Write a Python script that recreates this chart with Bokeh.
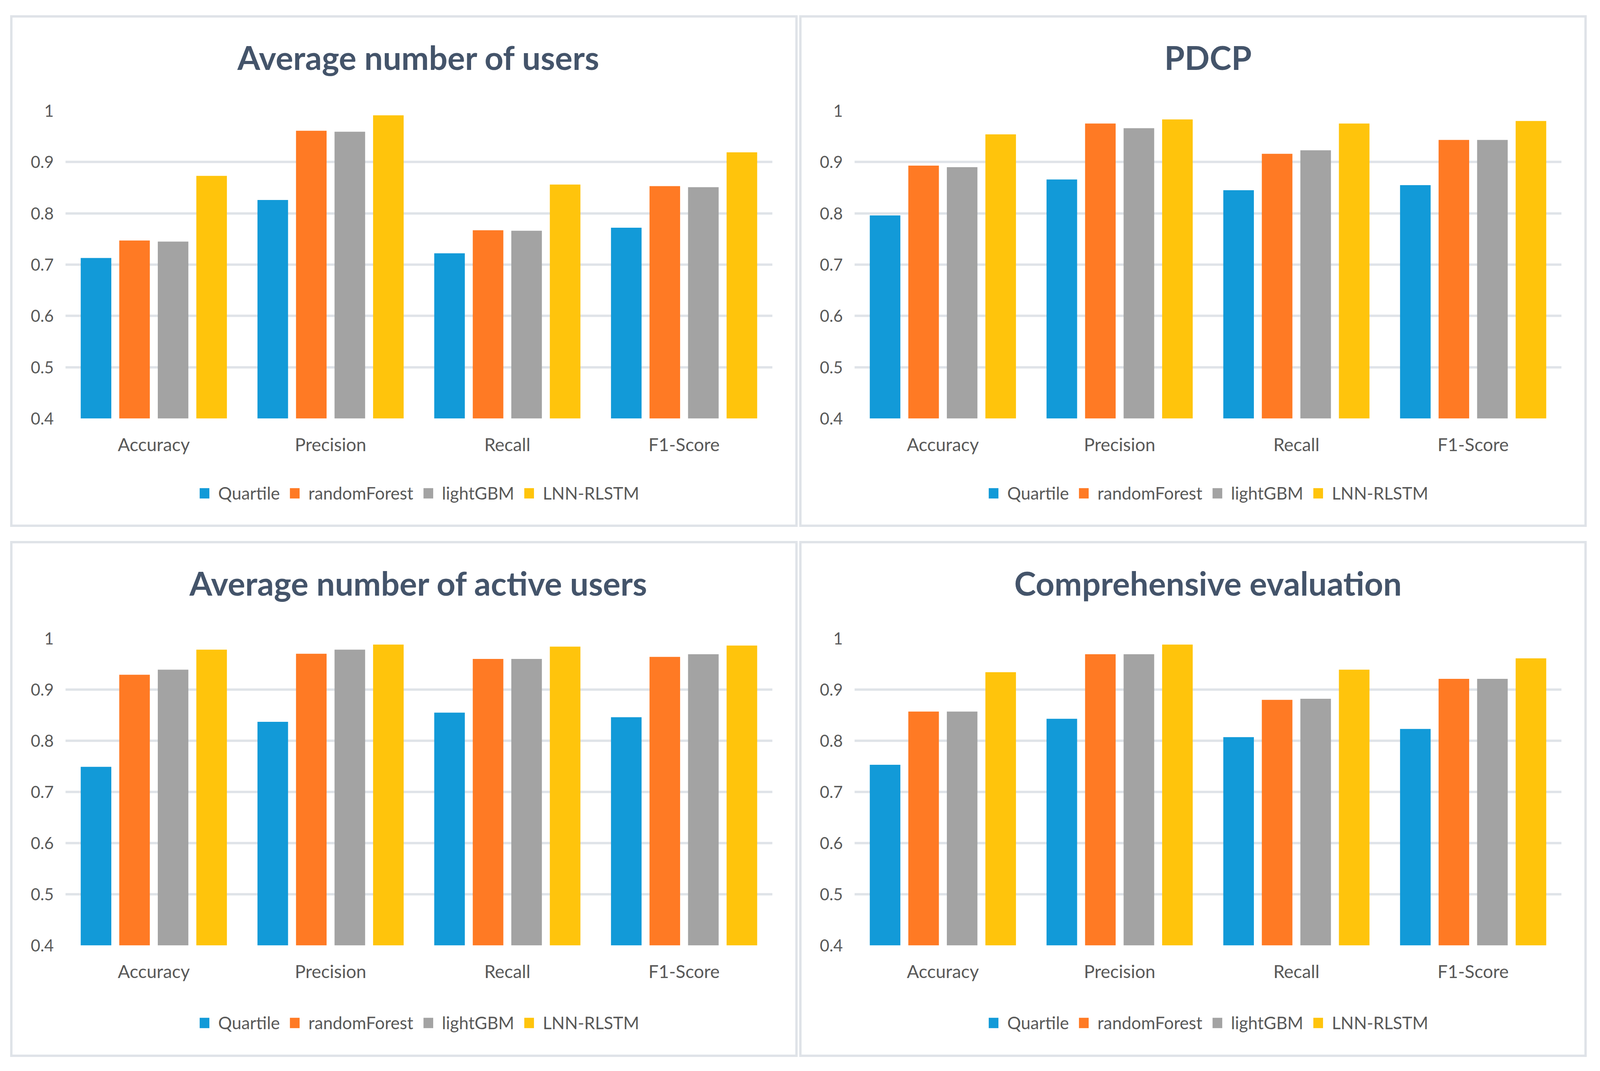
from bokeh.plotting import figure
from bokeh.models import (FactorRange, Range1d, FixedTicker, Legend, LegendItem,
                          ColumnDataSource, Spacer, Label)
from bokeh.layouts import column, row
from bokeh.transform import dodge
from bokeh.embed import file_html
from bokeh.resources import INLINE

metrics = ["Accuracy", "Precision", "Recall", "F1-Score"]
models = ["Quartile", "randomForest", "lightGBM", "LNN-RLSTM"]
y_ticks = [0.4, 0.5, 0.6, 0.7, 0.8, 0.9, 1.0]

# Average number of users
users_quartile = [0.713, 0.826, 0.722, 0.772]
users_rf = [0.747, 0.961, 0.767, 0.853]
users_lgbm = [0.745, 0.959, 0.766, 0.851]
users_lnn = [0.873, 0.991, 0.856, 0.919]

# PDCP
pdcp_quartile = [0.796, 0.866, 0.845, 0.855]
pdcp_rf = [0.893, 0.975, 0.916, 0.943]
pdcp_lgbm = [0.890, 0.966, 0.923, 0.943]
pdcp_lnn = [0.954, 0.983, 0.975, 0.980]

# Average number of active users
active_quartile = [0.749, 0.837, 0.855, 0.846]
active_rf = [0.929, 0.970, 0.960, 0.964]
active_lgbm = [0.939, 0.978, 0.960, 0.969]
active_lnn = [0.978, 0.988, 0.984, 0.986]

# Comprehensive evaluation
comp_quartile = [0.753, 0.843, 0.807, 0.823]
comp_rf = [0.857, 0.969, 0.880, 0.921]
comp_lgbm = [0.857, 0.969, 0.882, 0.921]
comp_lnn = [0.934, 0.988, 0.939, 0.961]

colors = ["#129ad8", "#ff7a24", "#a3a3a3", "#ffc40c"]
offsets = [-0.327, -0.109, 0.109, 0.327]
FONT = "Lato"
TEXT_COLOR = "#595959"
TITLE_COLOR = "#44546a"
LINE_COLOR = "#dfe3e8"
FRAME_W = 1810
LEFT, RIGHT = 135, 59
PANEL_W = LEFT + FRAME_W + RIGHT
TITLE_H = 202


def add_bars(p, src, keys):
    rends = []
    for k, off, c in zip(keys, offsets, colors):
        r = p.vbar(x=dodge("metric", off, range=p.x_range), top=k, bottom=0.4,
                   width=0.173, source=src, fill_color=c, line_color=None)
        rends.append(r)
    return rends


def make_panel(title, series, chart_top, frame_h, chart_bottom, legend_h):
    data = dict(metric=metrics)
    keys = ["s0", "s1", "s2", "s3"]
    for k, s in zip(keys, series):
        data[k] = s
    src = ColumnDataSource(data)

    # title strip
    t = figure(width=PANEL_W, height=TITLE_H, x_range=Range1d(0, 1), y_range=Range1d(0, 1),
               output_backend="svg", toolbar_location=None, min_border=0,
               x_axis_type=None, y_axis_type=None)
    t.grid.visible = False
    t.outline_line_color = None
    t.add_layout(Label(x=0.5, y=0.5, text=title, text_align="center",
                       text_baseline="middle", text_font=FONT,
                       text_font_size="84px", text_font_style="bold",
                       text_color=TITLE_COLOR))

    # chart
    p = figure(x_range=FactorRange(*metrics), y_range=Range1d(0.4, 1.0),
               frame_width=FRAME_W, frame_height=frame_h, output_backend="svg",
               toolbar_location=None, title=None,
               min_border_left=LEFT, min_border_right=RIGHT,
               min_border_top=chart_top, min_border_bottom=chart_bottom)
    add_bars(p, src, keys)
    p.outline_line_color = None
    p.xgrid.grid_line_color = None
    p.ygrid.grid_line_color = LINE_COLOR
    p.ygrid.grid_line_width = 6
    for ax in (p.xaxis[0], p.yaxis[0]):
        ax.axis_line_color = None
        ax.major_tick_line_color = None
        ax.minor_tick_line_color = None
        ax.major_tick_out = 0
        ax.major_tick_in = 0
        ax.minor_tick_out = 0
        ax.major_label_text_font = FONT
        ax.major_label_text_color = TEXT_COLOR
    p.yaxis[0].ticker = FixedTicker(ticks=y_ticks)
    p.yaxis[0].major_label_overrides = {1: "1"}
    p.yaxis[0].major_label_text_font_size = "42px"
    p.yaxis[0].major_label_standoff = 30
    p.xaxis[0].major_label_text_font_size = "46px"
    p.xaxis[0].major_label_standoff = 38

    # legend strip (bars fall outside its y-range, only swatches show)
    lf = figure(width=PANEL_W, height=legend_h, x_range=FactorRange(*metrics),
                y_range=Range1d(2, 3), output_backend="svg", toolbar_location=None,
                min_border=0, x_axis_type=None, y_axis_type=None)
    lf.grid.visible = False
    lf.outline_line_color = None
    rends = add_bars(lf, src, keys)
    items = [LegendItem(label=n, renderers=[r]) for n, r in zip(models, rends)]
    leg = Legend(items=items, orientation="horizontal", location="center",
                 glyph_width=31, glyph_height=33, label_standoff=20, spacing=22,
                 label_text_font=FONT, label_text_font_size="44px",
                 label_text_color=TEXT_COLOR, border_line_color=None,
                 background_fill_alpha=0, padding=0, margin=0)
    lf.add_layout(leg, "center")

    box = column(t, p, lf, spacing=0)
    box.styles = {"border": "6px solid " + LINE_COLOR}
    return box


p1 = make_panel("Average number of users",
                [users_quartile, users_rf, users_lgbm, users_lnn], 36, 788, 110, 162)
p2 = make_panel("PDCP",
                [pdcp_quartile, pdcp_rf, pdcp_lgbm, pdcp_lnn], 36, 788, 110, 162)
p3 = make_panel("Average number of active users",
                [active_quartile, active_rf, active_lgbm, active_lnn], 41, 786, 116, 164)
p4 = make_panel("Comprehensive evaluation",
                [comp_quartile, comp_rf, comp_lgbm, comp_lnn], 41, 786, 116, 164)

layout = column(
    Spacer(width=10, height=39),
    row(Spacer(width=26, height=10), p1, Spacer(width=4, height=10), p2),
    Spacer(width=10, height=36),
    row(Spacer(width=26, height=10), p3, Spacer(width=4, height=10), p4),
)

open("out.html", "w").write(file_html(layout, INLINE))
